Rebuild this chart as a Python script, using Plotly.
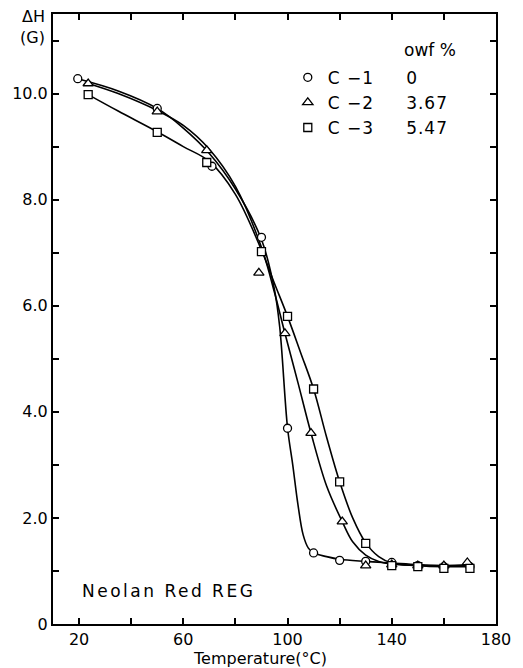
import plotly.graph_objects as go

# ---- data ----
# measured points
c1_T = [19.5, 50, 71, 90, 100, 110, 120, 130, 140, 150, 160, 170]
c1_H = [10.28, 9.72, 8.63, 7.29, 3.69, 1.34, 1.2, 1.18, 1.16, 1.1, 1.08, 1.08]
c2_T = [23.5, 50, 69, 89, 99, 109, 121, 130, 140, 150, 160, 169]
c2_H = [10.19, 9.66, 8.93, 6.62, 5.48, 3.6, 1.93, 1.1, 1.12, 1.1, 1.1, 1.16]
c3_T = [23.5, 50, 69, 90, 100, 110, 120, 130, 140, 150, 160, 170]
c3_H = [9.98, 9.27, 8.70, 7.02, 5.8, 4.43, 2.68, 1.52, 1.1, 1.08, 1.05, 1.05]

# fitted curves (nodes)
c1_fit_T = [19.5, 35, 50, 60, 70, 80, 90, 95, 97, 100, 102, 104, 106, 108, 110, 115, 120, 130, 140, 150, 160, 170]
c1_fit_H = [10.28, 10.05, 9.72, 9.35, 8.87, 8.2, 7.25, 6.3, 5.6, 3.7, 3.0, 2.25, 1.68, 1.43, 1.34, 1.27, 1.22, 1.18, 1.15, 1.12, 1.1, 1.1]
c2_fit_T = [23.5, 35, 50, 60, 70, 80, 90, 95, 99, 104, 109, 115, 121, 125, 130, 135, 140, 150, 160, 170]
c2_fit_H = [10.19, 10.0, 9.68, 9.4, 8.95, 8.25, 7.1, 6.25, 5.48, 4.55, 3.6, 2.6, 1.93, 1.55, 1.3, 1.18, 1.13, 1.1, 1.1, 1.12]
c3_fit_T = [23.5, 35, 50, 60, 70, 80, 90, 95, 100, 105, 110, 115, 120, 125, 130, 135, 140, 150, 160, 170]
c3_fit_H = [9.98, 9.67, 9.28, 9.0, 8.72, 8.1, 7.05, 6.42, 5.8, 5.12, 4.43, 3.52, 2.68, 2.0, 1.53, 1.27, 1.15, 1.1, 1.08, 1.08]

series_names = ["C\u00a0\u22121\u00a0\u00a0\u00a0\u00a0\u00a00",
                "C\u00a0\u22122\u00a0\u00a0\u00a0\u00a0\u00a03.67",
                "C\u00a0\u22123\u00a0\u00a0\u00a0\u00a0\u00a05.47"]
symbols = ["circle", "triangle-up", "square"]

x_tickvals = [20, 40, 60, 80, 100, 120, 140, 160, 180]
x_ticktext = ["20", "", "60", "", "100", "", "140", "", "180"]
y_tickvals = list(range(0, 12))
y_ticktext = ["0", "", "2.0", "", "4.0", "", "6.0", "", "8.0", "", "10.0", ""]

FONT = "DejaVu Sans"

fig = go.Figure()
for fT, fH in [(c1_fit_T, c1_fit_H), (c2_fit_T, c2_fit_H), (c3_fit_T, c3_fit_H)]:
    fig.add_trace(go.Scatter(x=fT, y=fH, mode="lines",
                             line=dict(color="black", width=1.6, shape="spline", smoothing=1.0),
                             showlegend=False, hoverinfo="skip"))

for i, (T, H) in enumerate([(c1_T, c1_H), (c2_T, c2_H), (c3_T, c3_H)]):
    fig.add_trace(go.Scatter(x=T, y=H, mode="markers",
                             name='<span style="letter-spacing:1px">' + series_names[i] + '</span>',
                             legendgroup=f"g{i}",
                             marker=dict(symbol=symbols[i], size=8 if i != 1 else 9,
                                         color="white", line=dict(color="black", width=1.3))))

fig.update_layout(
    width=523, height=668,
    margin=dict(l=50, r=20, t=14, b=44),
    paper_bgcolor="white", plot_bgcolor="white",
    font=dict(family=FONT, color="black", size=16),
    legend=dict(x=0.53, y=0.925, xanchor="left", yanchor="top",
                font=dict(size=17, family=FONT), bgcolor="rgba(0,0,0,0)",
                tracegroupgap=0, traceorder="grouped", itemwidth=30),
    xaxis=dict(range=[10, 180], tickvals=x_tickvals, ticktext=x_ticktext,
               ticks="inside", ticklen=6, tickwidth=1.5, tickcolor="black",
               showline=True, linecolor="black", linewidth=2, mirror="ticks",
               showgrid=False, zeroline=False, tickfont=dict(size=16)),
    yaxis=dict(range=[0, 11.5], tickvals=y_tickvals, ticktext=y_ticktext,
               ticks="inside", ticklen=6, tickwidth=1.5, tickcolor="black",
               showline=True, linecolor="black", linewidth=2, mirror="ticks",
               showgrid=False, zeroline=False, tickfont=dict(size=16)),
    annotations=[
        dict(text="Temperature(\u00b0C)", xref="paper", yref="paper", x=0.468, y=0,
             yshift=-34, xanchor="center", yanchor="middle", showarrow=False,
             font=dict(size=16)),
        dict(text="\u0394H", xref="paper", yref="paper", x=0, y=1, xshift=-6, yshift=-2,
             xanchor="right", yanchor="middle", showarrow=False, font=dict(size=16)),
        dict(text="(G)", xref="paper", yref="paper", x=0, y=1, xshift=-6, yshift=-23,
             xanchor="right", yanchor="middle", showarrow=False, font=dict(size=16)),
        dict(text="owf\u00a0%", xref="paper", yref="paper", x=0.788, y=0.941,
             xanchor="left", yanchor="middle", showarrow=False, font=dict(size=17)),
        dict(text='<span style="letter-spacing:2.5px">Neolan Red REG</span>',
             xref="paper", yref="paper", x=0.06, y=0, yshift=33,
             xanchor="left", yanchor="middle", showarrow=False, font=dict(size=17)),
    ],
)

fig.write_html("out.html")
